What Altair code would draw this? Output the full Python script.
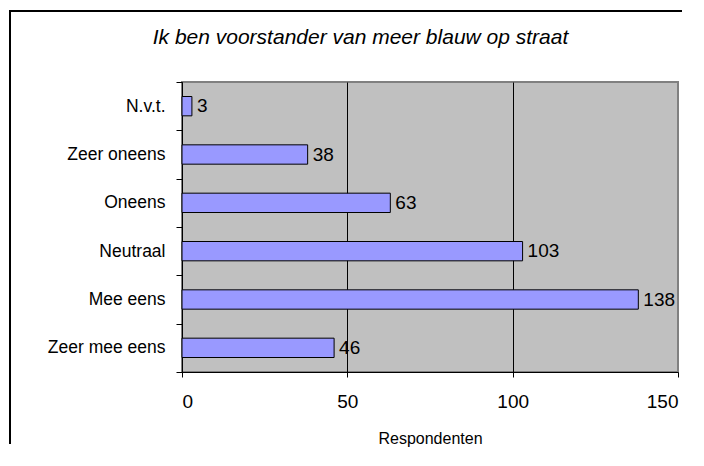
import altair as alt
import pandas as pd

categories = ["N.v.t.", "Zeer oneens", "Oneens", "Neutraal", "Mee eens", "Zeer mee eens"]
values = [3, 38, 63, 103, 138, 46]
x_ticks = [0, 50, 100, 150]
title_text = "Ik ben voorstander van meer blauw op straat"
x_title = "Respondenten"

df = pd.DataFrame({"cat": categories, "n": values})
FONT = "Liberation Sans"
LBL = 19

x_enc = alt.X(
    "n:Q",
    scale=alt.Scale(domain=[0, 150], nice=False),
    axis=alt.Axis(
        values=x_ticks,
        title=x_title,
        grid=True,
        gridColor="#000000",
        gridWidth=1,
        gridOpacity=alt.condition("datum.value === 150", alt.value(0), alt.value(1)),
        domainColor="#000000",
        tickColor="#000000",
        tickSize=5,
        labelPadding=15,
        labelFontSize=LBL,
        labelFont=FONT,
        labelColor="#000000",
        titleFont=FONT,
        titleFontSize=16,
        titleFontWeight="normal",
        titleColor="#000000",
        titleBaseline="alphabetic",
        titleY=71,
    ),
)
y_enc = alt.Y(
    "cat:N",
    sort=categories,
    scale=alt.Scale(paddingInner=0, paddingOuter=0),
    axis=alt.Axis(
        title=None,
        tickBand="extent",
        domainColor="#000000",
        tickColor="#000000",
        tickSize=6,
        labelPadding=11,
        labelFontSize=17.5,
        labelFont=FONT,
        labelColor="#000000",
    ),
)

bars = alt.Chart(df).mark_bar(
    height=alt.RelativeBandSize(0.4),
    fill="#9999FF",
    stroke="#000000",
    strokeWidth=1,
).encode(x=x_enc, y=y_enc)

labels = alt.Chart(df).mark_text(
    align="left", baseline="middle", dx=5, fontSize=LBL, font=FONT, color="#000000"
).encode(x="n:Q", y=alt.Y("cat:N", sort=categories), text="n:Q")

one = alt.Data(values=[{"k": 1}])
# outer chart frame (left and top edges only)
border_left = alt.Chart(one).mark_rule(stroke="#000000", strokeWidth=2).encode(
    x=alt.value(-172), y=alt.value(-72), y2=alt.value(362)
)
border_top = alt.Chart(one).mark_rule(stroke="#000000", strokeWidth=2).encode(
    x=alt.value(-173), x2=alt.value(500), y=alt.value(-71)
)
title = alt.Chart(one).mark_text(
    fontSize=21, font=FONT, fontStyle="italic", align="center",
    baseline="alphabetic", color="#000000",
).encode(x=alt.value(178.5), y=alt.value(-38), text=alt.value(title_text))

chart = alt.layer(border_left, border_top, title, bars, labels).properties(
    width=496,
    height=290,
    autosize=alt.AutoSizeParams(type="none"),
    padding={"left": 174, "top": 74, "right": 18, "bottom": 86},
    background="#FFFFFF",
).configure_view(
    stroke="#808080", strokeWidth=2, fill="#C0C0C0"
)

chart.save("out.html", embed_options={"renderer": "svg", "actions": False})
